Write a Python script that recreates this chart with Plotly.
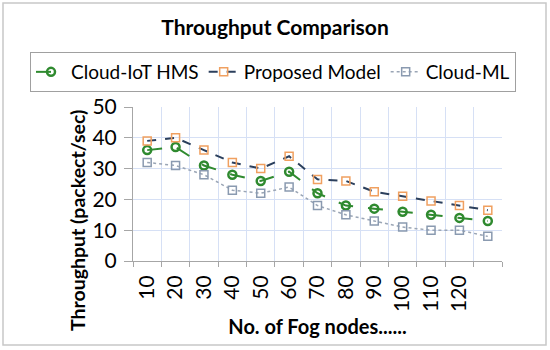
import plotly.graph_objects as go

categories = ["10", "20", "30", "40", "50", "60", "70", "80", "90", "100", "110", "120", ""]
cloud_iot_hms = [36, 37, 31, 28, 26, 29, 22, 18, 17, 16, 15, 14, 13]
proposed_model = [39, 40, 36, 32, 30, 34, 26.5, 26, 22.5, 21, 19.5, 18, 16.5]
cloud_ml = [32, 31, 28, 23, 22, 24, 18, 15, 13, 11, 10, 10, 8]
y_ticks = [0, 10, 20, 30, 40, 50]

FONT = "Lato"
xs = list(range(len(categories)))
L, R, T, B = 133, 48, 107, 89
PW, PH = 550 - L - R, 350 - T - B

fig = go.Figure()
fig.add_trace(go.Scatter(
    x=xs, y=cloud_iot_hms, name="Cloud-IoT HMS", mode="lines+markers",
    line=dict(color="#2f8a2f", width=2, dash="longdash"),
    marker=dict(symbol="circle-open", size=8, color="#2f8a2f", line=dict(width=2.5)),
))
fig.add_trace(go.Scatter(
    x=xs, y=proposed_model, name="Proposed Model", mode="lines+markers",
    line=dict(color="#2b3f5c", width=2, dash="dash"),
    marker=dict(symbol="square-open", size=8, color="#f0a060", line=dict(width=1.5)),
))
fig.add_trace(go.Scatter(
    x=xs, y=cloud_ml, name="Cloud-ML", mode="lines+markers",
    line=dict(color="#9aa5b5", width=1.5, dash="dot"),
    marker=dict(symbol="square-open", size=8, color="#8a9ab0", line=dict(width=1.5)),
))

# outer chart border
fig.add_shape(type="rect", xref="paper", yref="paper",
              x0=(3 - L) / PW, x1=(546 - L) / PW,
              y0=(T + PH - 345) / PH, y1=(T + PH - 3) / PH,
              line=dict(color="#c8c8c8", width=1.5), fillcolor="rgba(0,0,0,0)", layer="below")

# y-axis title, placed as in the reference (offset below the plot centre)
fig.add_annotation(text="<b>Throughput (packect/sec)</b>", textangle=-90,
                   xref="paper", yref="paper", x=(77 - L) / PW, y=(T + PH - 221) / PH,
                   xanchor="center", yanchor="middle", showarrow=False,
                   font=dict(size=19.5, family=FONT, color="black"))

fig.update_layout(
    width=550, height=350,
    margin=dict(l=L, r=R, t=T, b=B),
    paper_bgcolor="white", plot_bgcolor="white",
    font=dict(family=FONT, color="black"),
    title=dict(text="<b>Throughput Comparison</b>", x=0.5, xanchor="center",
               y=1 - 28 / 350, yanchor="middle", font=dict(size=21, family=FONT)),
    showlegend=True,
    legend=dict(orientation="h", x=(30 - L) / PW, xanchor="left",
                y=(T + PH - 52) / PH, yanchor="top",
                bordercolor="#a0a0a0", borderwidth=1, font=dict(size=19, family=FONT),
                itemwidth=30, tracegroupgap=0),
    xaxis=dict(
        range=[-0.5, len(categories) - 0.5], automargin=False,
        tickmode="array", tickvals=xs, ticktext=categories,
        tickangle=-90, tickfont=dict(size=21, family=FONT), ticklabelstandoff=5,
        showgrid=False, ticks="", showline=True, linecolor="#a6a6a6", linewidth=1,
        zeroline=False,
        minor=dict(tickmode="array", tickvals=[i - 0.5 for i in range(len(categories) + 1)],
                   showgrid=True, gridcolor="#d6e0f5", gridwidth=1,
                   ticks="outside", ticklen=5, tickcolor="#a6a6a6"),
        title=dict(text="<b>No. of Fog nodes......</b>", font=dict(size=20, family=FONT), standoff=9),
    ),
    yaxis=dict(
        range=[0, 50], tickmode="array", tickvals=y_ticks, automargin=False,
        tickfont=dict(size=21, family=FONT), ticklabelstandoff=3,
        showgrid=True, gridcolor="#d6e0f5", gridwidth=1,
        showline=True, linecolor="#a6a6a6", linewidth=1, ticks="outside", ticklen=8,
        tickcolor="#a6a6a6", zeroline=False,
    ),
)

fig.write_html("out.html", config={"displayModeBar": False},
               post_script="document.body.style.margin='0px';")
